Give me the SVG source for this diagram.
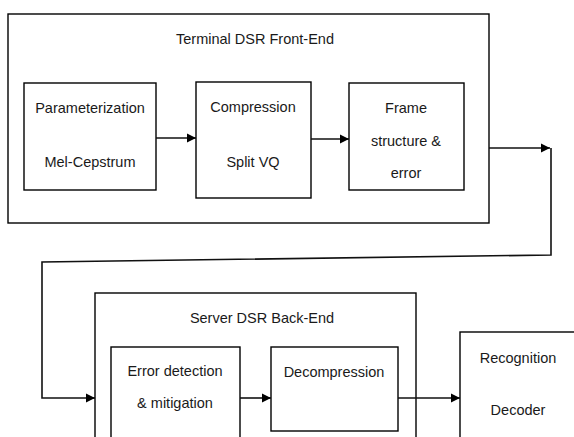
<svg xmlns="http://www.w3.org/2000/svg" width="574" height="437" viewBox="0 0 574 437">
<style>
.box{fill:#fff;stroke:#000;stroke-width:1.4}
.t{font-family:"Liberation Sans",Arial,sans-serif;font-size:14.5px;fill:#1a1a1a;text-anchor:middle}
.c{fill:none;stroke:#111;stroke-width:1.6}
</style>
<defs>
<marker id="ah" viewBox="0 0 10 10" refX="10" refY="5" markerWidth="9" markerHeight="10" markerUnits="userSpaceOnUse" orient="auto">
<path d="M0,0 L10,5 L0,10 z" fill="#000"/>
</marker>
</defs>
<rect width="574" height="437" fill="#fff"/>
<g id="frontend">
<rect class="box" x="8" y="14" width="481" height="209"/>
<text class="t" x="255" y="44">Terminal DSR Front-End</text>
</g>
<g id="param">
<rect class="box" x="24" y="83" width="132" height="107"/>
<text class="t" x="90" y="113">Parameterization</text>
<text class="t" x="90" y="167">Mel-Cepstrum</text>
</g>
<g id="compression">
<rect class="box" x="196" y="82" width="115" height="116"/>
<text class="t" x="253" y="112">Compression</text>
<text class="t" x="253" y="167">Split VQ</text>
</g>
<g id="frame">
<rect class="box" x="349" y="83" width="115" height="107"/>
<text class="t" x="406" y="113">Frame</text>
<text class="t" x="406" y="146">structure &amp;</text>
<text class="t" x="406" y="178">error</text>
</g>
<g id="backend">
<rect class="box" x="95" y="293" width="321" height="150"/>
<text class="t" x="262" y="323">Server DSR Back-End</text>
</g>
<g id="errordet">
<rect class="box" x="111" y="347" width="129" height="100"/>
<text class="t" x="175" y="376">Error detection</text>
<text class="t" x="175" y="408">&amp; mitigation</text>
</g>
<g id="decompression">
<rect class="box" x="271" y="347" width="127" height="84"/>
<text class="t" x="334" y="377">Decompression</text>
</g>
<g id="recognition">
<rect class="box" x="460" y="332" width="120" height="115"/>
<text class="t" x="518" y="363">Recognition</text>
<text class="t" x="518" y="415">Decoder</text>
</g>
<g id="connectors">
<line class="c" x1="156" y1="138" x2="196" y2="138" marker-end="url(#ah)"/>
<line class="c" x1="311" y1="139" x2="349" y2="139" marker-end="url(#ah)"/>
<line class="c" x1="489" y1="148" x2="550" y2="148" marker-end="url(#ah)"/>
<polyline class="c" points="551,148 551,255 42,262 42,398 95,398" marker-end="url(#ah)"/>
<line class="c" x1="240" y1="398" x2="271" y2="398" marker-end="url(#ah)"/>
<line class="c" x1="398" y1="398" x2="460" y2="398" marker-end="url(#ah)"/>
</g>
</svg>
